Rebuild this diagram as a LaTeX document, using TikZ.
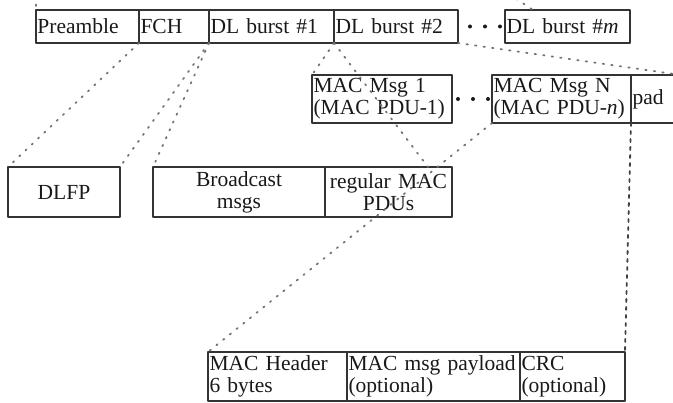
\documentclass[tikz,border=0pt]{standalone}
\usepackage{fontspec}
\setmainfont{Liberation Serif}
\usetikzlibrary{calc}

\begin{document}
\begin{tikzpicture}[x=1pt,y=-1pt,line cap=round,line join=round,
    box@/.style={draw=black!80,line width=1.2pt,inner xsep=1.5pt,inner ysep=0pt,
      outer sep=0pt,anchor=north west,align=left,text=black!90,
      font=\fontsize{21.5}{22}\selectfont},
    cell@/.style 2 args={text width=#1,minimum height=#2},
    dots@/.style={line width=1.8pt,draw=black!55,dash pattern=on 1.4pt off 7.2pt},
    gap@/.style={line width=4pt,draw=black!90,dash pattern=on 0pt off 15pt}]
    \useasboundingbox (0,0) rectangle (673,403);

    % The downlink subframe.
    \node[box@,cell@={100pt}{33pt}] (pre) at (36,10) {Preamble};
    \node[box@,cell@={67pt}{33pt}] (fch) at (139,10) {FCH};
    \node[box@,cell@={122pt}{33pt}] (dlone) at (209,10) {DL burst \#1};
    \node[box@,cell@={121pt}{33pt}] (dltwo) at (334,10) {DL burst \#2};
    \node[box@,cell@={122pt}{33pt}] (dlm) at (505,10) {DL burst \#\textit{m}};
    \draw[gap@,shorten <=12pt,shorten >=4.5pt] (dltwo.east) -- (dlm.west);

    % The MAC messages of a burst.
    \node[box@,cell@={137pt}{48pt}] (macone) at (312,75)
      {MAC Msg 1\\(MAC PDU-1)};
    \node[box@,cell@={136pt}{48pt}] (macn) at (492,75)
      {MAC Msg N\\(MAC PDU-\textit{n})};
    \node[box@,cell@={47pt}{48pt}] (pad) at (631,75) {pad};
    \draw[gap@,shorten <=6pt,shorten >=3pt] (macone.east) -- (macn.west);

    % What FCH and the first burst carry.
    \node[box@,cell@={109pt}{50pt},align=center] (dlfp) at (8,167) {DLFP};
    \node[box@,cell@={169pt}{50pt},align=center] (bcast) at (153,167)
      {Broadcast\\msgs};
    \node[box@,cell@={124pt}{50pt},align=center] (regmac) at (325,167)
      {regular MAC\\PDUs};

    % One MAC PDU.
    \node[box@,cell@={136pt}{49pt}] (mhdr) at (208,352) {MAC Header\\6 bytes};
    \node[box@,cell@={170pt}{49pt}] (mpay) at (347,352)
      {MAC msg payload\\(optional)};
    \node[box@,cell@={102pt}{49pt}] (crc) at (520,352) {CRC\\(optional)};

    % The dotted fans.
    \coordinate (prevL) at (36,-4);
    \coordinate (prevR) at (509,-6);
    \coordinate (burstm) at (533,10);
    \coordinate (pduend) at (428,167);
    \draw[dots@] (prevL) -- (pre.north west);
    \draw[dots@] (prevR) -- (burstm);
    \draw[dots@] (fch.south west) -- (dlfp.north west);
    \draw[dots@] (fch.south east) -- (dlfp.north east);
    \draw[dots@] (dlone.south west) -- (bcast.north west);
    \draw[dots@] (dlone.south east) -- (pduend);
    \draw[dots@] (dltwo.south west) -- (macone.north west);
    \draw[dots@] (dltwo.south east) -- (pad.north east);
    \draw[dots@] (macn.south west) -- (mhdr.north west);
    \draw[dots@,draw=black!75,dash pattern=on 3pt off 5pt]
      (macn.south east) -- (crc.north east);
  \end{tikzpicture}
\end{document}
